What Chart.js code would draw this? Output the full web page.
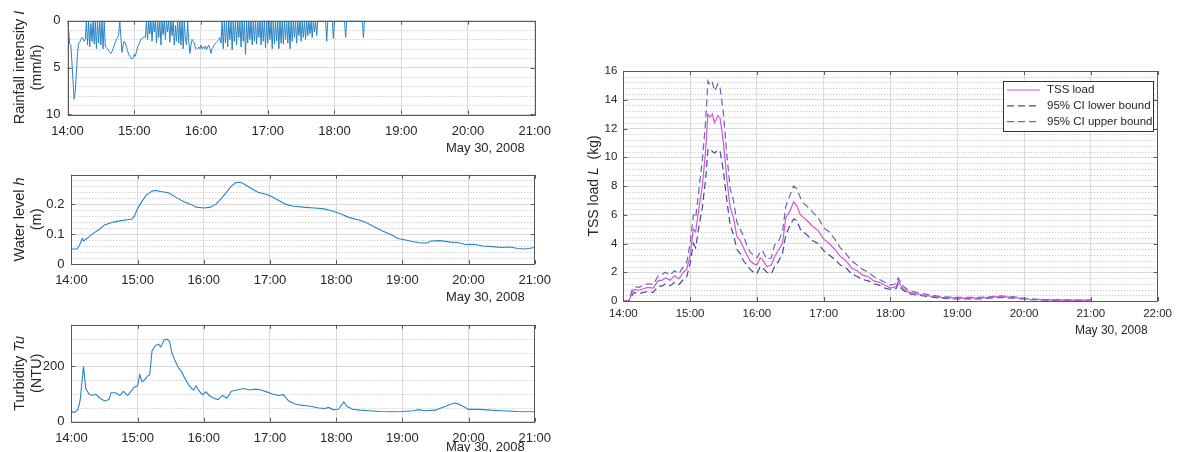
<!DOCTYPE html>
<html>
<head>
<meta charset="utf-8">
<script src="https://cdn.jsdelivr.net/npm/chart.js@4.4.1/dist/chart.umd.min.js"></script>
<style>
  body { margin: 0; background: #fff; width: 1178px; height: 452px; position: relative; overflow: hidden; }
  canvas { position: absolute; }
</style>
</head>
<body>
<canvas id="rainChart" width="560" height="160" style="left:0;top:0"></canvas>
<canvas id="levelChart" width="560" height="150" style="left:0;top:160px"></canvas>
<canvas id="turbChart" width="560" height="142" style="left:0;top:310px"></canvas>
<canvas id="tssChart" width="618" height="452" style="left:560px;top:0"></canvas>
<script>
// ---- data (minutes after 14:00, May 30 2008) ----
// rainfall, one value per minute from 14:00
const rainStepMin = 1;
const rainValues = [
  0, 1.0, 2.5, 2.6, 4.5, 6.5, 8.4, 7.5, 5.5, 3.5,
  2.4, 2.3, 2.0, 1.8, 1.9, 2.2, 2.0, 0, 2.6, 0,
  2.8, 0.3, 2.2, 0, 2.5, 0, 3.0, 0, 2.4, 0,
  2.6, 0, 3.0, 0, 2.8, 2.9, 3.0, 3.2, 3.4, 3.5,
  3.3, 3.0, 2.6, 2.3, 2.0, 1.8, 1.5, 0, 1.8, 3.4,
  2.6, 2.2, 2.4, 2.8, 3.2, 3.6, 3.8, 4.0, 4.1, 3.9,
  3.6, 3.8, 3.3, 2.8, 2.6, 2.3, 2.0, 1.9, 1.8, 1.7,
  1.8, 0, 2.0, 0, 1.4, 0, 2.2, 0, 1.2, 0,
  2.4, 0, 1.8, 0, 2.6, 0, 1.5, 0, 2.0, 0,
  1.2, 0, 2.3, 0, 1.6, 0, 2.6, 0.5, 2.2, 0,
  2.4, 0, 2.6, 0, 3.0, 0, 2.0, 2.6, 0, 2.2,
  3.5, 2.6, 2.0, 2.2, 2.4, 3.0, 2.9, 3.0, 2.8, 3.0,
  2.6, 3.0, 2.8, 3.0, 2.7, 3.1, 2.8, 2.6, 3.0, 3.5,
  3.0, 2.8, 2.6, 2.4, 2.3, 2.2, 2.0, 1.8, 2.4, 0,
  3.0, 0, 2.4, 0, 2.8, 0, 2.0, 0, 3.1, 0,
  2.2, 0, 2.6, 0, 1.8, 0, 2.8, 0, 2.2, 0,
  3.6, 0, 2.4, 0, 2.0, 0, 2.6, 0, 2.2, 0,
  2.5, 0, 1.8, 0, 2.6, 0, 2.2, 0, 2.9, 0,
  2.4, 0, 2.0, 0, 3.0, 0, 2.5, 0, 2.2, 0,
  3.0, 0, 2.4, 0, 2.5, 0, 2.0, 0, 2.4, 0,
  3.0, 0, 2.2, 0, 1.8, 0, 2.4, 0, 1.6, 0,
  2.2, 0, 1.8, 0, 2.0, 0, 1.6, 0, 1.4, 0,
  1.8, 0, 1.2, 0, 1.6, 0, 0, 0, 0, 0,
  0, 0, 0, 2.2, 0, 0, 0, 0, 0, 1.9,
  0, 0, 0, 0, 0, 0, 0, 0, 0, 0,
  1.8, 0, 0, 0, 0, 0, 0, 0, 0, 0,
  0, 0, 0, 0, 0, 0, 1.8, 0, 0];

const levelMin = [0, 5, 7, 10, 11, 14, 19, 25, 30, 38, 45, 51, 55, 57, 60, 64, 68, 73, 76, 81,
  88, 96, 102, 108, 113, 120, 126, 131, 135, 140, 145, 149, 153, 156, 162, 169, 177, 182, 188, 194,
  201, 210, 220, 228, 236, 244, 252, 260, 266, 274, 282, 290, 296, 303, 309, 317, 322, 326, 334, 344,
  350, 357, 365, 373, 382, 390, 397, 405, 411, 420];
const levelValues = [0.05, 0.05, 0.06, 0.085, 0.077, 0.085, 0.10, 0.115, 0.13, 0.14, 0.145, 0.148, 0.15, 0.16, 0.185, 0.21, 0.23, 0.243, 0.246, 0.242,
  0.238, 0.22, 0.208, 0.20, 0.19, 0.187, 0.19, 0.20, 0.215, 0.237, 0.26, 0.272, 0.273, 0.268, 0.255, 0.24, 0.232, 0.225, 0.212, 0.20,
  0.193, 0.19, 0.187, 0.185, 0.178, 0.168, 0.155, 0.148, 0.14, 0.125, 0.11, 0.098, 0.085, 0.08, 0.075, 0.07, 0.07, 0.077, 0.078, 0.073,
  0.072, 0.065, 0.066, 0.06, 0.058, 0.055, 0.057, 0.052, 0.05, 0.055];

const turbMin = [0, 3, 6, 8, 11, 13, 16, 19, 22, 26, 30, 34, 36, 40, 44, 47, 51, 54, 57, 60,
  62, 64, 66, 69, 71, 73, 76, 79, 81, 84, 87, 89, 91, 94, 97, 100, 103, 106, 109, 111,
  113, 116, 119, 122, 125, 129, 133, 137, 141, 145, 150, 156, 162, 167, 172, 177, 182, 188, 192, 197,
  202, 208, 213, 218, 224, 230, 233, 237, 242, 247, 250, 255, 262, 270, 280, 290, 300, 310, 315, 320,
  330, 335, 340, 345, 348, 352, 357, 360, 370, 380, 390, 405, 420];
const turbValues = [35, 35, 45, 80, 200, 120, 100, 95, 100, 85, 75, 80, 105, 105, 95, 110, 95, 110, 125, 130,
  171, 145, 150, 165, 170, 255, 275, 280, 270, 295, 298, 290, 250, 220, 195, 180, 155, 135, 120, 115,
  130, 110, 98, 108, 95, 85, 80, 95, 85, 110, 115, 120, 115, 118, 115, 108, 100, 95, 98, 75,
  65, 60, 58, 55, 50, 48, 52, 44, 45, 72, 55, 45, 42, 40, 37, 36, 37, 40, 44, 40,
  42, 50, 57, 65, 68, 62, 52, 45, 45, 42, 40, 37, 36];

const tssMin = [0, 5, 8, 10, 14, 18, 22, 27, 31, 35, 38, 42, 46, 50, 54, 57, 60, 63, 65, 68,
  71, 74, 76, 78, 80, 82, 85, 87, 90, 93, 96, 99, 102, 105, 108, 111, 114, 117, 120, 123,
  125, 129, 133, 136, 139, 143, 146, 150, 153, 156, 159, 162, 165, 170, 175, 180, 185, 190, 195, 200,
  205, 210, 215, 220, 225, 230, 235, 240, 245, 247, 250, 255, 260, 270, 285, 300, 320, 338, 350, 365,
  380, 400, 420];
const tssLoad = [0, 0, 0.6, 0.8, 0.75, 0.85, 0.95, 0.9, 1.4, 1.45, 1.6, 1.45, 1.75, 1.55, 2.0, 2.2, 3.2, 5.0, 4.8, 6.5,
  8.0, 10.5, 13.0, 12.8, 13.0, 12.4, 12.9, 12.7, 11.0, 8.5, 6.5, 5.8, 4.5, 4.2, 3.7, 3.2, 2.8, 2.6, 2.5, 3.0,
  2.9, 2.4, 2.5, 3.1, 3.5, 4.0, 5.8, 6.3, 6.9, 6.6, 6.0, 5.8, 5.6, 5.2, 4.9, 4.3, 4.0, 3.6, 3.1, 2.8,
  2.3, 2.1, 1.8, 1.7, 1.4, 1.3, 1.1, 0.9, 1.0, 1.4, 1.0, 0.65, 0.55, 0.4, 0.25, 0.2, 0.2, 0.3, 0.25, 0.12,
  0.08, 0.06, 0.05];
const tssLower = [0, 0, 0.4, 0.6, 0.5, 0.6, 0.65, 0.6, 1.0, 1.05, 1.2, 1.05, 1.3, 1.15, 1.5, 1.7, 2.6, 4.0, 3.7, 5.2,
  6.5, 8.5, 10.5, 10.6, 10.4, 10.3, 10.5, 10.4, 9.0, 7.0, 5.3, 4.6, 3.6, 3.3, 2.8, 2.5, 2.2, 2.0, 1.9, 2.4,
  2.3, 2.0, 1.9, 2.4, 2.7, 3.3, 4.6, 5.3, 5.7, 5.6, 5.0, 4.8, 4.6, 4.2, 4.0, 3.5, 3.2, 2.9, 2.5, 2.3,
  1.9, 1.7, 1.5, 1.4, 1.2, 1.1, 0.9, 0.8, 0.85, 1.2, 0.85, 0.55, 0.45, 0.35, 0.2, 0.15, 0.15, 0.25, 0.2, 0.1,
  0.06, 0.05, 0.04];
const tssUpper = [0, 0, 0.8, 1.0, 0.95, 1.1, 1.2, 1.15, 1.7, 1.85, 2.0, 1.8, 2.1, 1.9, 2.4, 2.7, 4.0, 6.0, 5.8, 7.8,
  9.8, 12.5, 15.3, 15.0, 15.2, 14.6, 15.1, 14.8, 13.0, 10.2, 7.8, 7.0, 5.5, 5.0, 4.5, 3.9, 3.4, 3.2, 3.0, 3.4,
  3.5, 2.9, 3.0, 3.9, 4.1, 4.8, 6.6, 7.4, 8.0, 7.8, 7.2, 6.8, 6.6, 6.2, 5.8, 5.1, 4.8, 4.3, 3.7, 3.3,
  2.8, 2.5, 2.2, 2.0, 1.7, 1.5, 1.3, 1.1, 1.2, 1.6, 1.15, 0.8, 0.65, 0.5, 0.3, 0.25, 0.25, 0.35, 0.3, 0.15,
  0.1, 0.07, 0.06];

// tick values
const leftHourTicks = [14, 15, 16, 17, 18, 19, 20, 21];
const rightHourTicks = [14, 15, 16, 17, 18, 19, 20, 21, 22];
const rainTicks = [0, 5, 10];
const levelTicks = [0, 0.1, 0.2];
const turbTicks = [0, 200];
const tssTicks = [0, 2, 4, 6, 8, 10, 12, 14, 16];
const dateText = 'May 30, 2008';

Chart.defaults.font.family = '"Liberation Sans", Arial, Helvetica, sans-serif';
Chart.defaults.color = '#262626';

const toHour = m => 14 + m / 60;
const pts = (mins, vals) => mins.map((m, i) => ({ x: toHour(m), y: vals[i] }));
const hourLabel = v => Math.round(v) + ':00';
const FONT = Chart.defaults.font.family;

// matlab-ish axes: minor dotted grid, box, inward ticks, date label, rich y label
const matlabAxes = {
  id: 'matlabAxes',
  beforeDatasetsDraw(chart, args, o) {
    const { ctx, chartArea: a, scales: { y } } = chart;
    const n = Math.round((y.max - y.min) / o.minorStep);
    ctx.save();
    ctx.strokeStyle = '#bdbdbd';
    ctx.lineWidth = 1;
    ctx.setLineDash([1, 2]);
    for (let i = 1; i < n; i++) {
      const v = y.min + i * o.minorStep;
      if (o.majors.some(m => Math.abs(m - v) < 1e-6)) continue;
      const py = Math.round(y.getPixelForValue(v)) + 0.5;
      ctx.beginPath(); ctx.moveTo(a.left, py); ctx.lineTo(a.right, py); ctx.stroke();
    }
    ctx.restore();
  },
  afterDraw(chart, args, o) {
    const { ctx, chartArea: a, scales: { x, y } } = chart;
    ctx.save();
    ctx.strokeStyle = '#5a5a5a';
    ctx.lineWidth = 1;
    ctx.strokeRect(Math.round(a.left) + 0.5, Math.round(a.top) + 0.5,
      Math.round(a.right - a.left), Math.round(a.bottom - a.top));
    ctx.beginPath();
    x.ticks.forEach(t => {
      const px = Math.round(x.getPixelForValue(t.value)) + 0.5;
      ctx.moveTo(px, a.bottom); ctx.lineTo(px, a.bottom - 4);
      ctx.moveTo(px, a.top); ctx.lineTo(px, a.top + 4);
    });
    y.ticks.forEach(t => {
      const py = Math.round(y.getPixelForValue(t.value)) + 0.5;
      ctx.moveTo(a.left, py); ctx.lineTo(a.left + 4, py);
      ctx.moveTo(a.right, py); ctx.lineTo(a.right - 4, py);
    });
    ctx.stroke();

    // date label under the time axis
    ctx.fillStyle = '#262626';
    ctx.font = o.dateSize + 'px ' + FONT;
    ctx.textAlign = 'right';
    ctx.textBaseline = 'middle';
    ctx.fillText(dateText, a.right - o.dateInset, a.bottom + o.dateOffset);

    // y label, rotated, with italic symbol
    const cy = (a.top + a.bottom) / 2;
    o.yLabel.forEach((line, li) => {
      ctx.save();
      ctx.translate(o.yLabelX[li], cy);
      ctx.rotate(-Math.PI / 2);
      let total = 0;
      const widths = line.map(seg => {
        ctx.font = (seg[1] ? 'italic ' : '') + o.labelSize + 'px ' + FONT;
        const w = ctx.measureText(seg[0]).width;
        total += w;
        return w;
      });
      let cx = -total / 2;
      ctx.textAlign = 'left';
      ctx.textBaseline = 'middle';
      line.forEach((seg, i) => {
        ctx.font = (seg[1] ? 'italic ' : '') + o.labelSize + 'px ' + FONT;
        ctx.fillText(seg[0], cx, 0);
        cx += widths[i];
      });
      ctx.restore();
    });
    ctx.restore();
  }
};

// legend box inside the TSS axes
const boxLegend = {
  id: 'boxLegend',
  afterDraw(chart, args, o) {
    if (!o.show) return;
    const { ctx } = chart;
    ctx.save();
    ctx.fillStyle = '#fff';
    ctx.strokeStyle = '#333';
    ctx.lineWidth = 1;
    ctx.fillRect(o.left, o.top, o.width, o.height);
    ctx.strokeRect(o.left + 0.5, o.top + 0.5, o.width, o.height);
    ctx.font = o.size + 'px ' + FONT;
    ctx.textBaseline = 'middle';
    chart.data.datasets.forEach((ds, i) => {
      const yy = o.top + o.rowTop + i * o.rowGap;
      ctx.strokeStyle = ds.borderColor;
      ctx.lineWidth = ds.borderWidth;
      ctx.setLineDash(ds.borderDash || []);
      ctx.beginPath(); ctx.moveTo(o.left + 4, yy); ctx.lineTo(o.left + 37, yy); ctx.stroke();
      ctx.setLineDash([]);
      ctx.fillStyle = '#262626';
      ctx.fillText(ds.label, o.left + 44, yy);
    });
    ctx.restore();
  }
};

function makeChart(id, p) {
  return new Chart(document.getElementById(id), {
    type: 'line',
    data: { datasets: p.datasets },
    plugins: [matlabAxes, boxLegend],
    options: {
      responsive: false,
      animation: false,
      events: [],
      layout: { padding: { top: p.padTop, right: p.padRight, left: 0, bottom: 0 } },
      elements: { point: { radius: 0 }, line: { tension: 0 } },
      plugins: {
        legend: { display: false },
        tooltip: { enabled: false },
        matlabAxes: {
          minorStep: p.minorStep, majors: p.yTicks, yLabel: p.yLabel, yLabelX: p.yLabelX,
          labelSize: p.labelSize, dateSize: p.dateSize, dateInset: p.dateInset, dateOffset: p.dateOffset
        },
        boxLegend: p.legend || { show: false }
      },
      scales: {
        x: {
          type: 'linear', min: p.xTicks[0], max: p.xTicks[p.xTicks.length - 1],
          afterBuildTicks: s => { s.ticks = p.xTicks.map(v => ({ value: v })); },
          afterFit: s => { s.height = p.xHeight; },
          grid: { color: '#dadada', drawTicks: false },
          border: { display: false },
          ticks: { callback: hourLabel, font: { size: p.tickSize }, padding: p.xPad, maxRotation: 0, autoSkip: false }
        },
        y: {
          type: 'linear', min: p.yMin, max: p.yMax, reverse: !!p.reverse,
          afterBuildTicks: s => { s.ticks = p.yTicks.map(v => ({ value: v })); },
          afterFit: s => { s.width = p.yWidth; },
          grid: { color: '#dadada', drawTicks: false },
          border: { display: false },
          ticks: { font: { size: p.tickSize }, padding: p.yPad, autoSkip: false }
        }
      }
    }
  });
}

const blue = '#2a84c4';
const leftCommon = {
  xTicks: leftHourTicks, tickSize: 13, labelSize: 14.5, dateSize: 13, dateInset: 10,
  xPad: 9, yPad: 7, yLabelX: [20, 37]
};

makeChart('rainChart', Object.assign({}, leftCommon, {
  datasets: [{ data: rainValues.map((v, i) => ({ x: toHour(i * rainStepMin), y: v })), borderColor: blue, borderWidth: 1 }],
  yMin: 0, yMax: 10, reverse: true, yTicks: rainTicks, minorStep: 1,
  padTop: 20.7, padRight: 16.5, yWidth: 67.5, xHeight: 45.7, dateOffset: 34,
  yLabel: [[['Rainfall intensity ', false], ['I', true]], [['(mm/h)', false]]]
}));

makeChart('levelChart', Object.assign({}, leftCommon, {
  datasets: [{ data: pts(levelMin, levelValues), borderColor: blue, borderWidth: 1.1 }],
  yMin: 0, yMax: 0.298, yTicks: levelTicks, minorStep: 0.02,
  padTop: 11.7, padRight: 18, yWidth: 71.4, xHeight: 46, dateOffset: 33,
  yLabel: [[['Water level ', false], ['h', true]], [['(m)', false]]]
}));

makeChart('turbChart', Object.assign({}, leftCommon, {
  datasets: [{ data: pts(turbMin, turbValues), borderColor: blue, borderWidth: 1.1 }],
  yMin: 0, yMax: 350, yTicks: turbTicks, minorStep: 50,
  padTop: 12.5, padRight: 18.6, yWidth: 71.4, xHeight: 30.2, dateOffset: 26,
  yLabel: [[['Turbidity ', false], ['Tu', true]], [['(NTU)', false]]]
}));

makeChart('tssChart', {
  datasets: [
    { label: 'TSS load', data: pts(tssMin, tssLoad), borderColor: '#d257d8', borderWidth: 1.2 },
    { label: '95% CI lower bound', data: pts(tssMin, tssLower), borderColor: '#4646a0', borderWidth: 1.2, borderDash: [7, 4] },
    { label: '95% CI upper bound', data: pts(tssMin, tssUpper), borderColor: '#6868b6', borderWidth: 1.2, borderDash: [7, 4] }
  ],
  xTicks: rightHourTicks, yMin: 0, yMax: 16, yTicks: tssTicks, minorStep: 0.4,
  tickSize: 11.5, labelSize: 14, dateSize: 12, dateInset: 10, xPad: 6, yPad: 6,
  padTop: 71, padRight: 15.7, yWidth: 63.3, xHeight: 151, dateOffset: 30,
  yLabelX: [34],
  yLabel: [[['TSS load ', false], ['L', true], ['  (kg)', false]]],
  legend: { show: true, left: 443, top: 81, width: 150, height: 50, rowTop: 9, rowGap: 15.8, size: 11.5 }
});
</script>
</body>
</html>
